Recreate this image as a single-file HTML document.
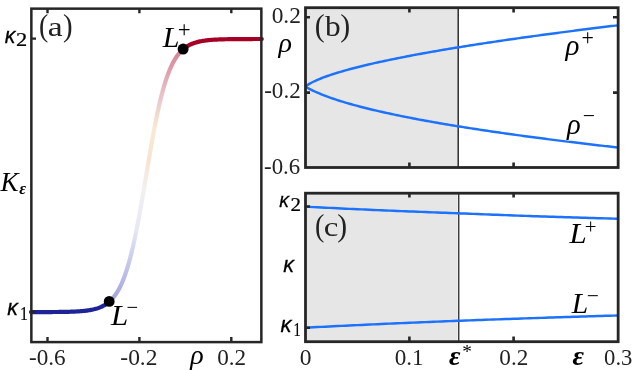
<!DOCTYPE html>
<html><head><meta charset="utf-8"><style>
html,body{margin:0;padding:0;background:#fff;}
svg{display:block;will-change:transform}
</style></head><body>
<svg width="638" height="370" viewBox="0 0 638 370">
<defs>
<linearGradient id="gA" gradientUnits="userSpaceOnUse" x1="0" y1="38" x2="0" y2="312">
<stop offset="0" stop-color="#a50026"/>
<stop offset="0.06" stop-color="#b01030"/>
<stop offset="0.2" stop-color="#d08090"/>
<stop offset="0.33" stop-color="#eed6a4"/>
<stop offset="0.45" stop-color="#f0c8a8"/>
<stop offset="0.55" stop-color="#e8e0e0"/>
<stop offset="0.7" stop-color="#ccd0ee"/>
<stop offset="0.95" stop-color="#4a50b8"/>
<stop offset="1" stop-color="#1e2396"/>
</linearGradient>
</defs>
<rect width="638" height="370" fill="#fff"/>
<!-- panel a -->
<path d="M109.25 301.71 L110.25 300.79 L111.25 299.81 L112.25 298.74 L113.25 297.58 L114.25 296.33 L115.25 294.98 L116.25 293.52 L117.25 291.94 L118.25 290.25 L119.25 288.42 L120.25 286.46 L121.25 284.35 L122.25 282.09 L123.25 279.67 L124.25 277.08 L125.25 274.33 L126.25 271.38 L127.25 268.26 L128.25 264.94 L129.25 261.43 L130.25 257.72 L131.25 253.80 L132.25 249.69 L133.25 245.37 L134.25 240.86 L135.25 236.16 L136.25 231.27 L137.25 226.20 L138.25 220.96 L139.25 215.57 L140.25 210.04 L141.25 204.39 L142.25 198.63 L143.25 192.79 L144.25 186.88 L145.25 180.93 L146.25 174.95 L147.25 168.98 L148.25 163.04 L149.25 157.14 L150.25 151.31 L151.25 145.57 L152.25 139.94 L153.25 134.44 L154.25 129.08 L155.25 123.87 L156.25 118.84 L157.25 113.99 L158.25 109.32 L159.25 104.85 L160.25 100.57 L161.25 96.50 L162.25 92.63 L163.25 88.95 L164.25 85.48 L165.25 82.20 L166.25 79.11 L167.25 76.21 L168.25 73.48 L169.25 70.93 L170.25 68.55 L171.25 66.32 L172.25 64.24 L173.25 62.30 L174.25 60.51 L175.25 58.83 L176.25 57.28 L177.25 55.85 L178.25 54.51 L179.25 53.28 L180.25 52.14 L181.25 51.09 L182.25 50.12 L183.10 49.35" fill="none" stroke="url(#gA)" stroke-width="4.2" opacity="0.5"/>
<path d="M31.00 312.09 L32.00 312.09 L33.00 312.09 L34.00 312.09 L35.00 312.08 L36.00 312.08 L37.00 312.08 L38.00 312.08 L39.00 312.08 L40.00 312.07 L41.00 312.07 L42.00 312.07 L43.00 312.07 L44.00 312.06 L45.00 312.06 L46.00 312.06 L47.00 312.05 L48.00 312.05 L49.00 312.04 L50.00 312.04 L51.00 312.03 L52.00 312.03 L53.00 312.02 L54.00 312.01 L55.00 312.01 L56.00 312.00 L57.00 311.99 L58.00 311.98 L59.00 311.97 L60.00 311.96 L61.00 311.94 L62.00 311.93 L63.00 311.91 L64.00 311.89 L65.00 311.88 L66.00 311.85 L67.00 311.83 L68.00 311.81 L69.00 311.78 L70.00 311.75 L71.00 311.72 L72.00 311.69 L73.00 311.65 L74.00 311.61 L75.00 311.56 L76.00 311.51 L77.00 311.46 L78.00 311.40 L79.00 311.34 L80.00 311.27 L81.00 311.19 L82.00 311.11 L83.00 311.02 L84.00 310.92 L85.00 310.81 L86.00 310.70 L87.00 310.57 L88.00 310.43 L89.00 310.28 L90.00 310.11 L91.00 309.93 L92.00 309.73 L93.00 309.52 L94.00 309.29 L95.00 309.03 L96.00 308.75 L97.00 308.45 L98.00 308.12 L99.00 307.76 L100.00 307.37 L101.00 306.95 L102.00 306.49 L103.00 305.99 L104.00 305.44 L105.00 304.85 L106.00 304.20 L107.00 303.51 L108.00 302.75 L109.00 301.92 L109.25 301.71" fill="none" stroke="#1e2396" stroke-width="4.2" stroke-linecap="round"/>
<path d="M183.10 49.35 L184.10 48.51 L185.10 47.74 L186.10 47.03 L187.10 46.38 L188.10 45.77 L189.10 45.22 L190.10 44.71 L191.10 44.24 L192.10 43.81 L193.10 43.41 L194.10 43.05 L195.10 42.71 L196.10 42.41 L197.10 42.12 L198.10 41.86 L199.10 41.63 L200.10 41.41 L201.10 41.21 L202.10 41.02 L203.10 40.86 L204.10 40.70 L205.10 40.56 L206.10 40.43 L207.10 40.31 L208.10 40.20 L209.10 40.10 L210.10 40.01 L211.10 39.92 L212.10 39.85 L213.10 39.78 L214.10 39.71 L215.10 39.65 L216.10 39.60 L217.10 39.55 L218.10 39.50 L219.10 39.46 L220.10 39.42 L221.10 39.39 L222.10 39.35 L223.10 39.32 L224.10 39.30 L225.10 39.27 L226.10 39.25 L227.10 39.23 L228.10 39.21 L229.10 39.19 L230.10 39.18 L231.10 39.16 L232.10 39.15 L233.10 39.14 L234.10 39.12 L235.10 39.11 L236.10 39.10 L237.10 39.10 L238.10 39.09 L239.10 39.08 L240.10 39.07 L241.10 39.07 L242.10 39.06 L243.10 39.06 L244.10 39.05 L245.10 39.05 L246.10 39.04 L247.10 39.04 L248.10 39.04 L249.10 39.03 L250.10 39.03 L251.10 39.03 L252.10 39.03 L253.10 39.02 L254.10 39.02 L255.10 39.02 L256.10 39.02 L257.10 39.02 L258.10 39.02 L259.10 39.01 L260.10 39.01 L261.10 39.01 L261.80 39.01" fill="none" stroke="#a50026" stroke-width="4.2" stroke-linecap="round"/>
<rect x="31.35" y="8.65" width="230.0" height="333.45" fill="none" stroke="#262626" stroke-width="2.5"/>
<g stroke="#262626" stroke-width="2.4" fill="none">
<path d="M47.5 9v4.3M139.4 9v4.3M231.3 9v4.3M47.5 341.5v-4.5M139.4 341.5v-4.5M231.3 341.5v-4.5"/>
<path d="M32 38.6h4M32 311.9h4"/>
</g>
<circle cx="183.1" cy="49.1" r="5.5" fill="#000"/>
<circle cx="109.2" cy="301.4" r="5.4" fill="#000"/>
<text x="0.5" y="191" font-family="'Liberation Serif', serif" font-size="27" font-style="italic" fill="#000">K</text>

<!-- panels b, c -->
<rect x="305.4" y="7.7" width="152.9" height="159.8" fill="#e6e6e6"/>
<rect x="305.4" y="193" width="152.25" height="148.4" fill="#e6e6e6"/>
<path d="M458.2 7.7V167.5" stroke="#1a1a1a" stroke-width="1.35" fill="none"/>
<path d="M458.75 193V341.4" stroke="#262626" stroke-width="1.3" fill="none"/>
<path d="M305.40 86.60 L307.40 85.14 L309.40 83.89 L311.40 82.77 L313.40 81.74 L315.40 80.79 L317.40 79.90 L319.40 79.05 L321.40 78.24 L323.40 77.47 L325.40 76.73 L327.40 76.01 L329.40 75.32 L331.40 74.65 L333.40 74.00 L335.40 73.36 L337.40 72.74 L339.40 72.14 L341.40 71.55 L343.40 70.97 L345.40 70.40 L347.40 69.85 L349.40 69.30 L351.40 68.77 L353.40 68.24 L355.40 67.72 L357.40 67.21 L359.40 66.71 L361.40 66.22 L363.40 65.73 L365.40 65.25 L367.40 64.77 L369.40 64.30 L371.40 63.84 L373.40 63.39 L375.40 62.93 L377.40 62.49 L379.40 62.05 L381.40 61.61 L383.40 61.18 L385.40 60.75 L387.40 60.33 L389.40 59.91 L391.40 59.49 L393.40 59.08 L395.40 58.68 L397.40 58.27 L399.40 57.87 L401.40 57.48 L403.40 57.09 L405.40 56.70 L407.40 56.31 L409.40 55.93 L411.40 55.55 L413.40 55.17 L415.40 54.79 L417.40 54.42 L419.40 54.05 L421.40 53.69 L423.40 53.32 L425.40 52.96 L427.40 52.61 L429.40 52.25 L431.40 51.90 L433.40 51.54 L435.40 51.19 L437.40 50.85 L439.40 50.50 L441.40 50.16 L443.40 49.82 L445.40 49.48 L447.40 49.14 L449.40 48.81 L451.40 48.48 L453.40 48.15 L455.40 47.82 L457.40 47.49 L459.40 47.17 L461.40 46.84 L463.40 46.52 L465.40 46.20 L467.40 45.88 L469.40 45.57 L471.40 45.25 L473.40 44.94 L475.40 44.63 L477.40 44.31 L479.40 44.01 L481.40 43.70 L483.40 43.39 L485.40 43.09 L487.40 42.78 L489.40 42.48 L491.40 42.18 L493.40 41.88 L495.40 41.59 L497.40 41.29 L499.40 40.99 L501.40 40.70 L503.40 40.41 L505.40 40.12 L507.40 39.83 L509.40 39.54 L511.40 39.25 L513.40 38.96 L515.40 38.68 L517.40 38.39 L519.40 38.11 L521.40 37.83 L523.40 37.55 L525.40 37.27 L527.40 36.99 L529.40 36.71 L531.40 36.43 L533.40 36.16 L535.40 35.88 L537.40 35.61 L539.40 35.34 L541.40 35.06 L543.40 34.79 L545.40 34.52 L547.40 34.26 L549.40 33.99 L551.40 33.72 L553.40 33.45 L555.40 33.19 L557.40 32.92 L559.40 32.66 L561.40 32.40 L563.40 32.14 L565.40 31.88 L567.40 31.62 L569.40 31.36 L571.40 31.10 L573.40 30.84 L575.40 30.58 L577.40 30.33 L579.40 30.07 L581.40 29.82 L583.40 29.57 L585.40 29.31 L587.40 29.06 L589.40 28.81 L591.40 28.56 L593.40 28.31 L595.40 28.06 L597.40 27.81 L599.40 27.56 L601.40 27.32 L603.40 27.07 L605.40 26.83 L607.40 26.58 L609.40 26.34 L611.40 26.09 L613.40 25.85 L615.40 25.61 L617.00 25.41" fill="none" stroke="#1c72fb" stroke-width="2.45"/>
<path d="M305.40 86.60 L307.40 87.75 L309.40 88.83 L311.40 89.85 L313.40 90.82 L315.40 91.75 L317.40 92.64 L319.40 93.49 L321.40 94.31 L323.40 95.11 L325.40 95.88 L327.40 96.63 L329.40 97.35 L331.40 98.06 L333.40 98.74 L335.40 99.41 L337.40 100.07 L339.40 100.71 L341.40 101.33 L343.40 101.95 L345.40 102.55 L347.40 103.14 L349.40 103.71 L351.40 104.28 L353.40 104.84 L355.40 105.38 L357.40 105.92 L359.40 106.45 L361.40 106.97 L363.40 107.49 L365.40 107.99 L367.40 108.49 L369.40 108.98 L371.40 109.47 L373.40 109.95 L375.40 110.42 L377.40 110.88 L379.40 111.34 L381.40 111.80 L383.40 112.25 L385.40 112.69 L387.40 113.13 L389.40 113.57 L391.40 114.00 L393.40 114.42 L395.40 114.84 L397.40 115.26 L399.40 115.67 L401.40 116.08 L403.40 116.48 L405.40 116.88 L407.40 117.28 L409.40 117.67 L411.40 118.06 L413.40 118.44 L415.40 118.82 L417.40 119.20 L419.40 119.58 L421.40 119.95 L423.40 120.32 L425.40 120.69 L427.40 121.05 L429.40 121.41 L431.40 121.77 L433.40 122.12 L435.40 122.47 L437.40 122.82 L439.40 123.17 L441.40 123.51 L443.40 123.86 L445.40 124.20 L447.40 124.53 L449.40 124.87 L451.40 125.20 L453.40 125.53 L455.40 125.86 L457.40 126.18 L459.40 126.51 L461.40 126.83 L463.40 127.15 L465.40 127.47 L467.40 127.78 L469.40 128.09 L471.40 128.41 L473.40 128.72 L475.40 129.02 L477.40 129.33 L479.40 129.63 L481.40 129.94 L483.40 130.24 L485.40 130.54 L487.40 130.83 L489.40 131.13 L491.40 131.42 L493.40 131.72 L495.40 132.01 L497.40 132.30 L499.40 132.58 L501.40 132.87 L503.40 133.16 L505.40 133.44 L507.40 133.72 L509.40 134.00 L511.40 134.28 L513.40 134.56 L515.40 134.84 L517.40 135.11 L519.40 135.38 L521.40 135.66 L523.40 135.93 L525.40 136.20 L527.40 136.47 L529.40 136.73 L531.40 137.00 L533.40 137.27 L535.40 137.53 L537.40 137.79 L539.40 138.05 L541.40 138.31 L543.40 138.57 L545.40 138.83 L547.40 139.09 L549.40 139.35 L551.40 139.60 L553.40 139.85 L555.40 140.11 L557.40 140.36 L559.40 140.61 L561.40 140.86 L563.40 141.11 L565.40 141.35 L567.40 141.60 L569.40 141.85 L571.40 142.09 L573.40 142.34 L575.40 142.58 L577.40 142.82 L579.40 143.06 L581.40 143.30 L583.40 143.54 L585.40 143.78 L587.40 144.02 L589.40 144.25 L591.40 144.49 L593.40 144.72 L595.40 144.96 L597.40 145.19 L599.40 145.42 L601.40 145.65 L603.40 145.88 L605.40 146.11 L607.40 146.34 L609.40 146.57 L611.40 146.80 L613.40 147.03 L615.40 147.25 L617.00 147.43" fill="none" stroke="#1c72fb" stroke-width="2.45"/>
<path d="M305.40 206.70 L309.40 206.90 L313.40 207.10 L317.40 207.30 L321.40 207.50 L325.40 207.70 L329.40 207.90 L333.40 208.09 L337.40 208.28 L341.40 208.47 L345.40 208.66 L349.40 208.85 L353.40 209.03 L357.40 209.22 L361.40 209.40 L365.40 209.58 L369.40 209.76 L373.40 209.93 L377.40 210.10 L381.40 210.27 L385.40 210.44 L389.40 210.61 L393.40 210.77 L397.40 210.94 L401.40 211.10 L405.40 211.26 L409.40 211.42 L413.40 211.58 L417.40 211.73 L421.40 211.89 L425.40 212.04 L429.40 212.20 L433.40 212.35 L437.40 212.51 L441.40 212.66 L445.40 212.81 L449.40 212.97 L453.40 213.12 L457.40 213.28 L461.40 213.43 L465.40 213.59 L469.40 213.75 L473.40 213.90 L477.40 214.06 L481.40 214.22 L485.40 214.37 L489.40 214.53 L493.40 214.69 L497.40 214.84 L501.40 215.00 L505.40 215.15 L509.40 215.30 L513.40 215.45 L517.40 215.60 L521.40 215.75 L525.40 215.89 L529.40 216.04 L533.40 216.18 L537.40 216.31 L541.40 216.45 L545.40 216.58 L549.40 216.71 L553.40 216.84 L557.40 216.97 L561.40 217.09 L565.40 217.22 L569.40 217.34 L573.40 217.47 L577.40 217.59 L581.40 217.71 L585.40 217.82 L589.40 217.94 L593.40 218.06 L597.40 218.17 L601.40 218.28 L605.40 218.39 L609.40 218.50 L613.40 218.61 L617.00 218.70" fill="none" stroke="#1c72fb" stroke-width="2.45"/>
<path d="M305.40 327.70 L309.40 327.49 L313.40 327.29 L317.40 327.08 L321.40 326.88 L325.40 326.68 L329.40 326.48 L333.40 326.28 L337.40 326.08 L341.40 325.88 L345.40 325.69 L349.40 325.50 L353.40 325.31 L357.40 325.12 L361.40 324.93 L365.40 324.74 L369.40 324.56 L373.40 324.37 L377.40 324.19 L381.40 324.01 L385.40 323.83 L389.40 323.65 L393.40 323.48 L397.40 323.30 L401.40 323.13 L405.40 322.95 L409.40 322.78 L413.40 322.61 L417.40 322.44 L421.40 322.27 L425.40 322.11 L429.40 321.94 L433.40 321.78 L437.40 321.61 L441.40 321.45 L445.40 321.29 L449.40 321.13 L453.40 320.98 L457.40 320.82 L461.40 320.67 L465.40 320.52 L469.40 320.37 L473.40 320.22 L477.40 320.07 L481.40 319.92 L485.40 319.78 L489.40 319.64 L493.40 319.49 L497.40 319.35 L501.40 319.21 L505.40 319.07 L509.40 318.93 L513.40 318.80 L517.40 318.66 L521.40 318.52 L525.40 318.39 L529.40 318.25 L533.40 318.12 L537.40 317.99 L541.40 317.85 L545.40 317.72 L549.40 317.59 L553.40 317.46 L557.40 317.33 L561.40 317.20 L565.40 317.07 L569.40 316.95 L573.40 316.82 L577.40 316.70 L581.40 316.57 L585.40 316.45 L589.40 316.32 L593.40 316.20 L597.40 316.08 L601.40 315.96 L605.40 315.84 L609.40 315.72 L613.40 315.61 L617.00 315.50" fill="none" stroke="#1c72fb" stroke-width="2.45"/>
<rect x="305.5" y="7.7" width="312.65" height="159.8" fill="none" stroke="#262626" stroke-width="2.8"/>
<rect x="305.5" y="193.2" width="312.65" height="148.5" fill="none" stroke="#262626" stroke-width="2.8"/>
<g stroke="#262626" stroke-width="2.6" fill="none">
<path d="M409.4 8v4.5M513.6 8v4.5M409.4 167v-4.5M513.6 167v-4.5"/>
<path d="M409.4 193v4.5M513.6 193v4.5M409.4 341v-4.5M513.6 341v-4.5"/>
<path d="M306 17.3h4M306 92.6h4M617 17.3h-4M617 92.6h-4"/>
<path d="M306 206.5h4M306 327.8h4"/>
</g>
<text transform="translate(38.88 35.94) scale(0.893 1)" font-family="Liberation Serif" font-size="31.22" font-style="normal" font-weight="normal" fill="#222222">(</text>
<text transform="translate(47.66 35.73) scale(1.250 1)" font-family="Liberation Serif" font-size="26.87" font-style="normal" font-weight="normal" fill="#222222">a</text>
<text transform="translate(62.88 35.94) scale(0.924 1)" font-family="Liberation Serif" font-size="31.22" font-style="normal" font-weight="normal" fill="#222222">)</text>
<text transform="translate(4.79 43.00) scale(0.958 1)" font-family="Liberation Sans" font-size="22.22" font-style="italic" font-weight="normal" fill="#000" stroke="#000" stroke-width="0.27">κ</text>
<text transform="translate(15.90 46.40) scale(1.148 1)" font-family="Liberation Serif" font-size="19.55" font-style="normal" font-weight="normal" fill="#000" stroke="#000" stroke-width="0.23">2</text>
<text transform="translate(7.29 315.00) scale(0.958 1)" font-family="Liberation Sans" font-size="22.22" font-style="italic" font-weight="normal" fill="#000" stroke="#000" stroke-width="0.27">κ</text>
<text transform="translate(20.02 319.90) scale(0.803 1)" font-family="Liberation Serif" font-size="19.85" font-style="normal" font-weight="normal" fill="#000" stroke="#000" stroke-width="0.24">1</text>
<text transform="translate(162.80 46.60) scale(1.043 1)" font-family="Liberation Serif" font-size="28.77" font-style="italic" font-weight="normal" fill="#000">L</text>
<text transform="translate(177.86 37.34) scale(1.029 1)" font-family="Liberation Serif" font-size="22.22" font-style="normal" font-weight="normal" fill="#000">+</text>
<text transform="translate(111.01 325.00) scale(1.082 1)" font-family="Liberation Serif" font-size="28.62" font-style="italic" font-weight="normal" fill="#000">L</text>
<text transform="translate(126.57 314.26) scale(1.000 1)" font-family="Liberation Serif" font-size="20.64" font-style="normal" font-weight="normal" fill="#000">−</text>
<text transform="translate(28.97 364.95) scale(1.035 1)" font-family="Liberation Serif" font-size="22.39" font-style="normal" font-weight="normal" fill="#222222">-0.6</text>
<text transform="translate(120.31 364.75) scale(1.053 1)" font-family="Liberation Serif" font-size="22.31" font-style="normal" font-weight="normal" fill="#222222">-0.2</text>
<text transform="translate(217.17 364.75) scale(1.039 1)" font-family="Liberation Serif" font-size="22.31" font-style="normal" font-weight="normal" fill="#222222">0.2</text>
<text transform="translate(271.66 22.65) scale(1.045 1)" font-family="Liberation Serif" font-size="22.39" font-style="normal" font-weight="normal" fill="#222222">0.2</text>
<text transform="translate(264.18 98.05) scale(1.031 1)" font-family="Liberation Serif" font-size="22.39" font-style="normal" font-weight="normal" fill="#222222">-0.2</text>
<text transform="translate(264.09 173.65) scale(1.007 1)" font-family="Liberation Serif" font-size="22.69" font-style="normal" font-weight="normal" fill="#222222">-0.6</text>
<text transform="translate(314.81 36.02) scale(0.967 1)" font-family="Liberation Serif" font-size="30.83" font-style="normal" font-weight="normal" fill="#222222">(</text>
<text transform="translate(325.00 35.96) scale(1.096 1)" font-family="Liberation Serif" font-size="28.57" font-style="normal" font-weight="normal" fill="#222222">b</text>
<text transform="translate(340.36 36.02) scale(0.967 1)" font-family="Liberation Serif" font-size="30.83" font-style="normal" font-weight="normal" fill="#222222">)</text>
<text transform="translate(581.60 45.44) scale(0.986 1)" font-family="Liberation Serif" font-size="22.22" font-style="normal" font-weight="normal" fill="#000">+</text>
<text transform="translate(582.71 123.12) scale(1.000 1)" font-family="Liberation Serif" font-size="21.70" font-style="normal" font-weight="normal" fill="#000">−</text>
<text transform="translate(279.31 206.90) scale(0.929 1)" font-family="Liberation Sans" font-size="20.93" font-style="italic" font-weight="normal" fill="#000" stroke="#000" stroke-width="0.25">κ</text>
<text transform="translate(290.56 211.06) scale(1.124 1)" font-family="Liberation Serif" font-size="18.66" font-style="normal" font-weight="normal" fill="#000" stroke="#000" stroke-width="0.22">2</text>
<text transform="translate(280.38 331.90) scale(1.000 1)" font-family="Liberation Sans" font-size="22.04" font-style="italic" font-weight="normal" fill="#000" stroke="#000" stroke-width="0.26">κ</text>
<text transform="translate(293.43 335.60) scale(0.771 1)" font-family="Liberation Serif" font-size="18.94" font-style="normal" font-weight="normal" fill="#000" stroke="#000" stroke-width="0.23">1</text>
<text transform="translate(283.19 271.80) scale(0.951 1)" font-family="Liberation Sans" font-size="22.59" font-style="italic" font-weight="normal" fill="#000" stroke="#000" stroke-width="0.27">κ</text>
<text transform="translate(315.08 236.41) scale(0.909 1)" font-family="Liberation Serif" font-size="30.89" font-style="normal" font-weight="normal" fill="#222222">(</text>
<text transform="translate(323.78 236.32) scale(1.190 1)" font-family="Liberation Serif" font-size="27.71" font-style="normal" font-weight="normal" fill="#222222">c</text>
<text transform="translate(337.31 236.41) scale(0.959 1)" font-family="Liberation Serif" font-size="30.89" font-style="normal" font-weight="normal" fill="#222222">)</text>
<text transform="translate(569.51 242.70) scale(1.082 1)" font-family="Liberation Serif" font-size="28.62" font-style="italic" font-weight="normal" fill="#000">L</text>
<text transform="translate(584.76 234.00) scale(0.998 1)" font-family="Liberation Serif" font-size="20.89" font-style="normal" font-weight="normal" fill="#000">+</text>
<text transform="translate(571.80 312.70) scale(1.035 1)" font-family="Liberation Serif" font-size="28.62" font-style="italic" font-weight="normal" fill="#000">L</text>
<text transform="translate(586.83 302.60) scale(1.000 1)" font-family="Liberation Serif" font-size="21.49" font-style="normal" font-weight="normal" fill="#000">−</text>
<text transform="translate(299.81 364.84) scale(1.027 1)" font-family="Liberation Serif" font-size="22.84" font-style="normal" font-weight="normal" fill="#222222">0</text>
<text transform="translate(394.77 364.56) scale(1.049 1)" font-family="Liberation Serif" font-size="22.06" font-style="normal" font-weight="normal" fill="#222222">0.1</text>
<text transform="translate(499.37 364.55) scale(1.037 1)" font-family="Liberation Serif" font-size="22.39" font-style="normal" font-weight="normal" fill="#222222">0.2</text>
<text transform="translate(604.09 364.84) scale(0.992 1)" font-family="Liberation Serif" font-size="22.84" font-style="normal" font-weight="normal" fill="#222222">0.3</text>
<text transform="translate(462.24 357.92) scale(1.050 1)" font-family="Liberation Serif" font-size="18.33" font-style="normal" font-weight="normal" fill="#000">*</text>
<text x="190.2" y="364.2" font-family="'Liberation Serif', serif" font-size="28" font-style="italic" fill="#000">ρ</text>
<text x="278.5" y="51.8" font-family="'Liberation Serif', serif" font-size="28" font-style="italic" fill="#000">ρ</text>
<text x="565.6" y="55.2" font-family="'Liberation Serif', serif" font-size="29" font-style="italic" fill="#000">ρ</text>
<text x="567.1" y="133.6" font-family="'Liberation Serif', serif" font-size="28.5" font-style="italic" fill="#000">ρ</text>
<text x="572.4" y="364.7" font-family="'Liberation Serif', serif" font-size="28" font-style="italic" font-weight="bold" fill="#000">ε</text>
<text x="449" y="364.7" font-family="'Liberation Serif', serif" font-size="28" font-style="italic" font-weight="bold" fill="#000">ε</text>
<text x="19.2" y="194" font-family="'Liberation Serif', serif" font-size="16.5" font-style="italic" font-weight="bold" fill="#000">ε</text>
</svg>
</body></html>
